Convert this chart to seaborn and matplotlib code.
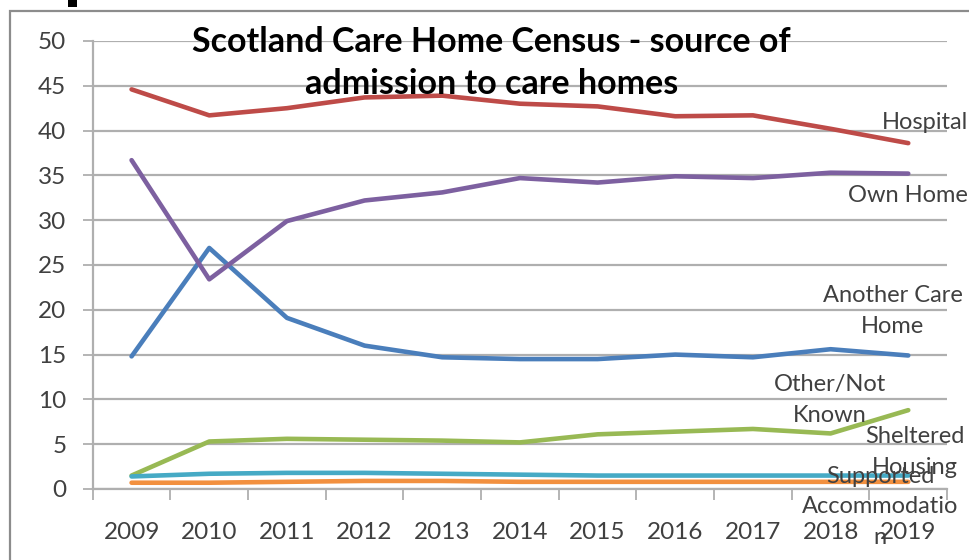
import matplotlib
matplotlib.use("Agg")
import matplotlib.pyplot as plt
from matplotlib.patches import Rectangle
import numpy as np
import pandas as pd
import seaborn as sns

# Census years and admission sources (percent of admissions)
years = ["2009", "2010", "2011", "2012", "2013", "2014", "2015", "2016", "2017", "2018", "2019"]

another_care_home = [14.8, 26.9, 19.1, 16.0, 14.7, 14.5, 14.5, 15.0, 14.7, 15.6, 14.9]
hospital = [44.6, 41.7, 42.5, 43.7, 43.9, 43.0, 42.7, 41.6, 41.7, 40.2, 38.6]
other_not_known = [1.5, 5.3, 5.6, 5.5, 5.4, 5.2, 6.1, 6.4, 6.7, 6.2, 8.8]
own_home = [36.7, 23.4, 29.9, 32.2, 33.1, 34.7, 34.2, 34.9, 34.7, 35.3, 35.2]
sheltered_housing = [1.4, 1.7, 1.8, 1.8, 1.7, 1.6, 1.5, 1.5, 1.5, 1.5, 1.5]
supported_accommodation = [0.7, 0.7, 0.8, 0.9, 0.9, 0.8, 0.8, 0.8, 0.8, 0.8, 0.8]

series_names = ["Another Care Home", "Hospital", "Other/Not Known", "Own Home",
                "Sheltered Housing", "Supported Accommodation"]
series_values = [another_care_home, hospital, other_not_known, own_home,
                 sheltered_housing, supported_accommodation]

colors = {
    "Another Care Home": "#4A7EBB",
    "Hospital": "#BE4B48",
    "Other/Not Known": "#98B954",
    "Own Home": "#7D60A0",
    "Sheltered Housing": "#46AAC5",
    "Supported Accommodation": "#F2903F",
}

rows = []
for name, vals in zip(series_names, series_values):
    for i, v in enumerate(vals):
        rows.append({"pos": i, "year": years[i], "source": name, "value": v})
df = pd.DataFrame(rows)

sns.set_theme(style="white")
plt.rcParams["font.family"] = ["Lato", "DejaVu Sans"]

TXT = "#404040"
GRID = "#AFAFAF"

fig = plt.figure(figsize=(9.69, 5.60), dpi=100)
ax = fig.add_axes([0.0957, 0.1268, 0.8817, 0.80])

sns.lineplot(data=df, x="pos", y="value", hue="source", hue_order=series_names,
             palette=colors, linewidth=3.3, legend=False, ax=ax, zorder=3)

ax.set_xlim(-0.5, len(years) - 0.5)
ax.set_ylim(0, 50)
ax.set_xlabel("")
ax.set_ylabel("")

# y axis: gridlines every 5
ax.set_yticks(np.arange(0, 51, 5))
ax.yaxis.grid(True, color=GRID, linewidth=1.6, zorder=0)
ax.tick_params(axis="y", which="major", length=7, width=1.3, color=GRID,
               direction="out", pad=12, labelsize=17.5, labelcolor=TXT, left=True)

# x axis: tick marks between categories, labels at category centres
ax.set_xticks(np.arange(-0.5, len(years), 1.0))
ax.set_xticklabels([])
ax.set_xticks(np.arange(len(years)), minor=True)
ax.set_xticklabels(years, minor=True)
ax.tick_params(axis="x", which="major", length=8, width=1.3, color=GRID,
               direction="out", bottom=True)
ax.tick_params(axis="x", which="minor", length=0, pad=24, labelsize=17.5,
               labelcolor=TXT, bottom=True)

for side in ["top", "right"]:
    ax.spines[side].set_visible(False)
for side in ["left", "bottom"]:
    ax.spines[side].set_color(GRID)
    ax.spines[side].set_linewidth(1.6)

# title sits inside the plot area over the gridlines
ax.text(4.63, 47.5, "Scotland Care Home Census - source of\nadmission to care homes",
        ha="center", va="center", fontsize=24.5, fontweight="bold", color="black",
        linespacing=1.38, zorder=5)

# series labels beside the final points
label_pos = {
    "Hospital": (10.22, 40.85, "Hospital"),
    "Own Home": (10.0, 32.8, "Own Home"),
    "Another Care Home": (9.80, 19.87, "Another Care\nHome"),
    "Other/Not Known": (8.99, 9.93, "Other/Not\nKnown"),
    "Sheltered Housing": (10.09, 4.13, "Sheltered\nHousing"),
    "Supported Accommodation": (9.64, -2.0, "Supported\nAccommodatio\nn"),
}
for name, (lx, ly, txt) in label_pos.items():
    ax.text(lx, ly, txt, ha="center", va="center", fontsize=17, color=TXT,
            linespacing=1.55, clip_on=False, zorder=6)

# outer chart border and a dark mark at the top edge
fig.patches.append(Rectangle((10 / 969, -0.05), 1.2, 1.05 - 11 / 560,
                             transform=fig.transFigure, fill=False,
                             edgecolor="#8C8C8C", linewidth=1.6, zorder=0))
fig.patches.append(Rectangle((68 / 969, 1 - 7 / 560), 9 / 969, 0.05,
                             transform=fig.transFigure, facecolor="black",
                             edgecolor="none", zorder=1))

fig.savefig("out.png", dpi=100)
